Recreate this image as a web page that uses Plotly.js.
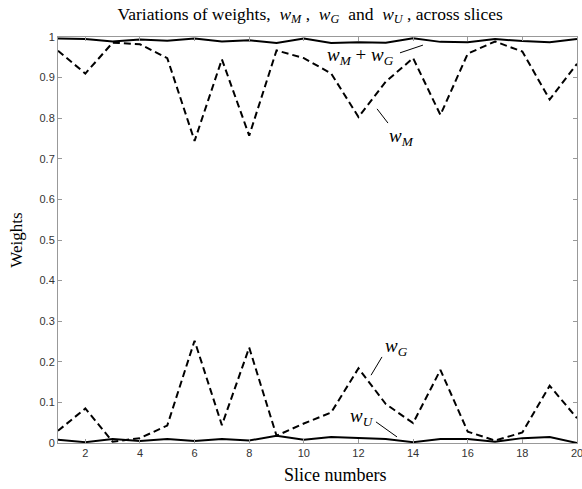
<!DOCTYPE html>
<html>
<head>
<meta charset="utf-8">
<script src="https://cdn.plot.ly/plotly-3.0.1.min.js"></script>
<style>
  html, body { margin: 0; padding: 0; background: #fff; }
  #chart { width: 582px; height: 489px; }
</style>
</head>
<body>
<div id="chart"></div>
<script>
// Slice indices
const slices = [1, 2, 3, 4, 5, 6, 7, 8, 9, 10, 11, 12, 13, 14, 15, 16, 17, 18, 19, 20];

// Weight of the M component per slice
const wM = [0.966, 0.910, 0.986, 0.982, 0.948, 0.744, 0.945, 0.757, 0.967, 0.948,
            0.910, 0.803, 0.890, 0.948, 0.808, 0.959, 0.989, 0.964, 0.846, 0.934];

// Weight of the G component per slice
const wG = [0.030, 0.085, 0.003, 0.012, 0.043, 0.252, 0.044, 0.235, 0.018, 0.048,
            0.075, 0.184, 0.096, 0.049, 0.180, 0.028, 0.006, 0.026, 0.141, 0.061];

// Weight of the U component per slice
const wU = [0.008, 0.002, 0.010, 0.005, 0.010, 0.005, 0.010, 0.006, 0.018, 0.008,
            0.015, 0.013, 0.010, 0.002, 0.010, 0.010, 0.003, 0.012, 0.015, 0.000];

// Combined M + G weight
const wMG = wM.map((v, i) => v + wG[i]);

const xTicks = [2, 4, 6, 8, 10, 12, 14, 16, 18, 20];
const yTicks = [0, 0.1, 0.2, 0.3, 0.4, 0.5, 0.6, 0.7, 0.8, 0.9, 1];
const yTickText = ['0', '0.1', '0.2', '0.3', '0.4', '0.5', '0.6', '0.7', '0.8', '0.9', '1'];

const solid = { color: '#000', width: 2 };
const dashed = { color: '#000', width: 2, dash: '7px,4px' };

const traces = [
  { x: slices, y: wMG, mode: 'lines', line: solid, name: 'wM + wG' },
  { x: slices, y: wM, mode: 'lines', line: dashed, name: 'wM' },
  { x: slices, y: wG, mode: 'lines', line: dashed, name: 'wG' },
  { x: slices, y: wU, mode: 'lines', line: solid, name: 'wU' }
];

const serif = 'Liberation Serif, Times New Roman, serif';
const lab = (s) => '<i>w</i><sub><i>' + s + '</i></sub>';

// thin pointer line from a label to its curve
function leader(x0, y0, x1, y1) {
  return { type: 'line', xref: 'x', yref: 'y', x0, y0, x1, y1,
           line: { color: '#000', width: 1 } };
}
function label(x, y, text) {
  return { xref: 'x', yref: 'y', x, y, text, showarrow: false,
           font: { family: serif, size: 19, color: '#000' } };
}

const axisCommon = {
  showline: true, mirror: 'ticks', linecolor: '#999', linewidth: 1,
  ticks: 'inside', ticklen: 4, tickcolor: '#999',
  showgrid: false, zeroline: false, ticklabeloverflow: 'allow',
  tickfont: { family: 'Liberation Sans, Arial, sans-serif', size: 11, color: '#333' }
};

const layout = {
  width: 582, height: 489,
  margin: { l: 58, r: 5, t: 37, b: 46 },
  paper_bgcolor: '#fff', plot_bgcolor: '#fff',
  showlegend: false,
  title: {
    text: 'Variations of weights,  ' + lab('M') + ' ,  ' + lab('G') + '  and  ' + lab('U') + ' , across slices',
    font: { family: serif, size: 17.5, color: '#000' },
    x: 0.533, xanchor: 'center', y: 0.972, yanchor: 'middle'
  },
  xaxis: Object.assign({}, axisCommon, {
    range: [1, 20], tickvals: xTicks
  }),
  yaxis: Object.assign({}, axisCommon, {
    range: [0, 1], tickvals: yTicks, ticktext: yTickText,
    title: { text: 'Weights', font: { family: serif, size: 17, color: '#000' }, standoff: 12 }
  }),
  shapes: [
    leader(13.52, 0.961, 14.36, 0.980),
    leader(12.68, 0.823, 13.08, 0.788),
    leader(12.86, 0.212, 12.46, 0.167),
    leader(12.64, 0.052, 13.41, 0.015)
  ],
  annotations: [
    label(12.09, 0.953, lab('M') + ' + ' + lab('G')),
    label(13.56, 0.754, lab('M')),
    label(13.41, 0.236, lab('G')),
    label(12.13, 0.064, lab('U')),
    { xref: 'paper', yref: 'paper', x: 0.534, y: -0.05, xanchor: 'center', yanchor: 'top',
      text: 'Slice numbers', showarrow: false,
      font: { family: serif, size: 18, color: '#000' } }
  ]
};

Plotly.newPlot('chart', traces, layout, { staticPlot: true, displayModeBar: false });
</script>
</body>
</html>
